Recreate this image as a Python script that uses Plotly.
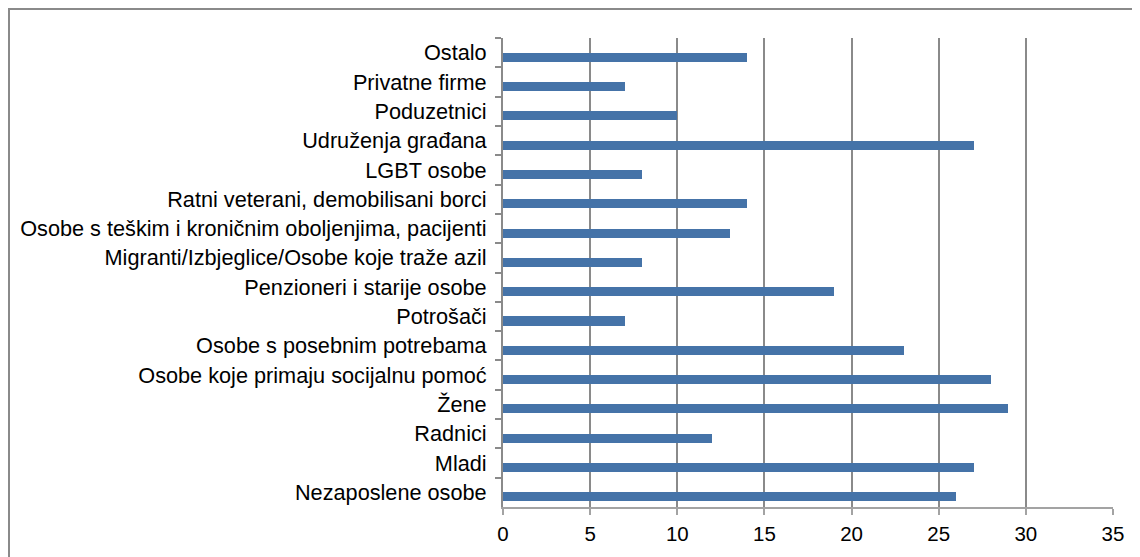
import plotly.graph_objects as go

categories = [
    "Ostalo",
    "Privatne firme",
    "Poduzetnici",
    "Udruženja građana",
    "LGBT osobe",
    "Ratni veterani, demobilisani borci",
    "Osobe s teškim i kroničnim oboljenjima, pacijenti",
    "Migranti/Izbjeglice/Osobe koje traže azil",
    "Penzioneri i starije osobe",
    "Potrošači",
    "Osobe s posebnim potrebama",
    "Osobe koje primaju socijalnu pomoć",
    "Žene",
    "Radnici",
    "Mladi",
    "Nezaposlene osobe",
]
values = [14, 7, 10, 27, 8, 14, 13, 8, 19, 7, 23, 28, 29, 12, 27, 26]
x_ticks = [0, 5, 10, 15, 20, 25, 30, 35]

FONT = "Liberation Sans, Arial, sans-serif"
GRID = "#8a8a8a"

fig = go.Figure()
fig.add_trace(go.Bar(
    x=values,
    y=categories,
    orientation="h",
    marker=dict(color="#4573A8", line=dict(width=0)),
    width=0.31,
    offset=0.0,
    showlegend=False,
    hoverinfo="x+y",
))

fig.update_layout(
    width=1132,
    height=549,
    margin=dict(l=495, r=27, t=30, b=48),
    paper_bgcolor="white",
    plot_bgcolor="white",
    font=dict(family=FONT, color="#000000"),
    bargap=0,
    xaxis=dict(
        range=[0, 35],
        tickvals=x_ticks,
        ticktext=[str(v) for v in x_ticks],
        showgrid=True,
        gridcolor=GRID,
        gridwidth=2,
        zeroline=False,
        showline=True,
        linecolor="#a3a3a3",
        linewidth=2,
        ticks="outside",
        ticklen=6,
        tickwidth=2,
        tickcolor="#a3a3a3",
        tickfont=dict(size=20.5, family=FONT, color="#000000"),
        ticklabelstandoff=1,
    ),
    yaxis=dict(
        autorange="reversed",
        type="category",
        showgrid=False,
        zeroline=False,
        showline=True,
        linecolor=GRID,
        linewidth=2,
        ticks="outside",
        tickson="boundaries",
        ticklen=6,
        tickwidth=2,
        tickcolor=GRID,
        tickfont=dict(size=21.7, family=FONT, color="#000000"),
        ticklabelstandoff=10,
    ),
    shapes=[
        dict(
            type="rect",
            xref="paper",
            yref="paper",
            x0=(1 - 495) / 610,
            x1=1.2,
            y0=-0.3,
            y1=1 + 29 / 471,
            line=dict(color="#8a8a8a", width=2),
            fillcolor="rgba(0,0,0,0)",
            layer="below",
        )
    ],
)

fig.write_html("out.html")
